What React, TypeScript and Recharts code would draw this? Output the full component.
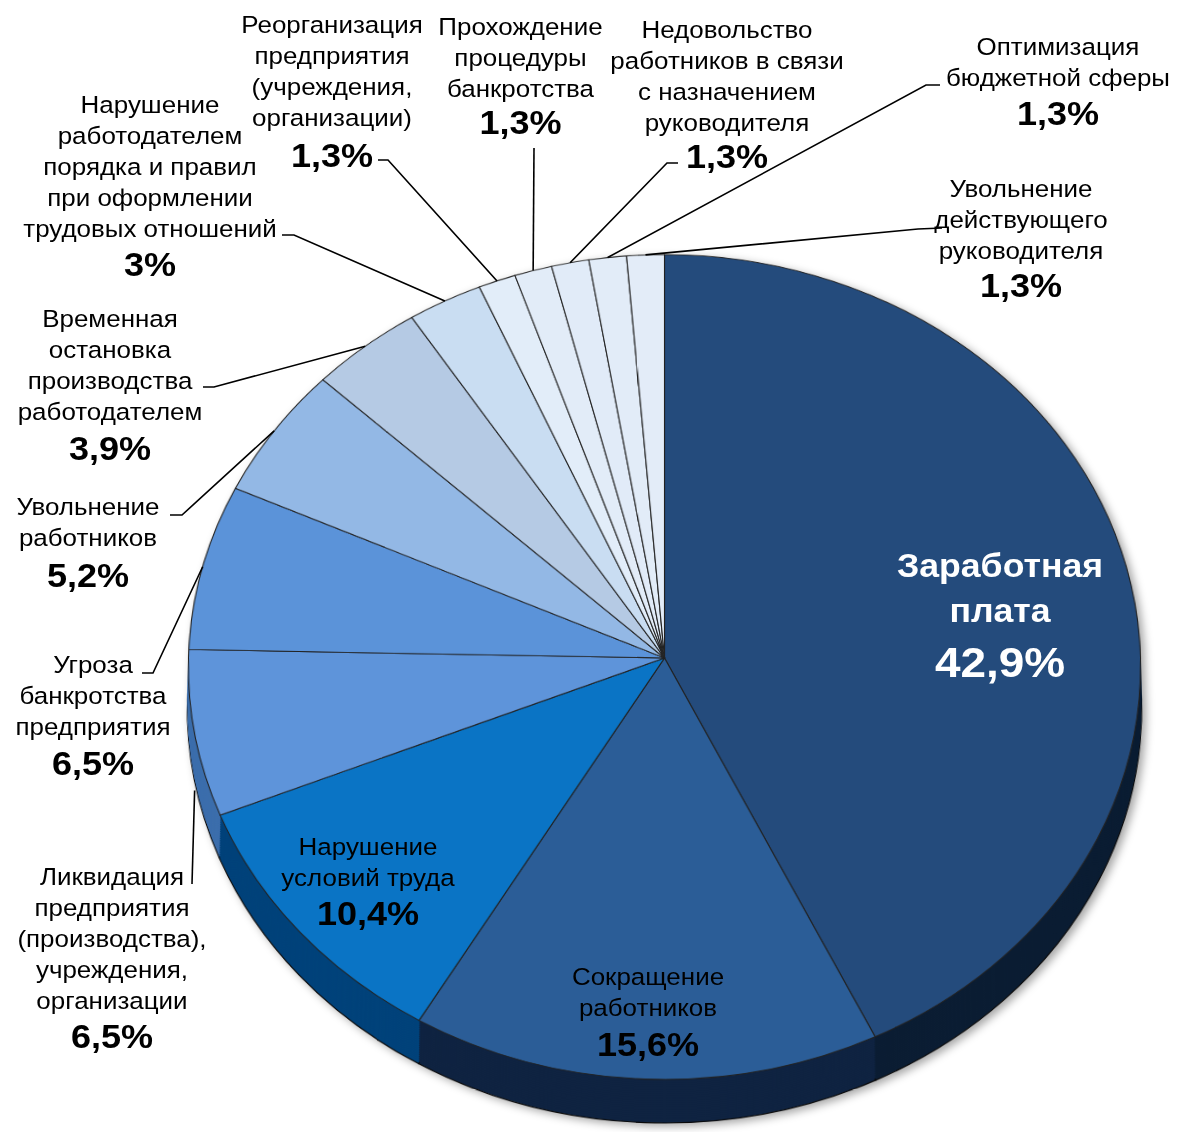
import React from 'react';
import { PieChart, Pie, Cell } from 'recharts';

// ---------- data ----------
const categories: string[] = [
  'Заработная\nплата',
  'Сокращение\nработников',
  'Нарушение\nусловий труда',
  'Ликвидация\nпредприятия\n(производства),\nучреждения,\nорганизации',
  'Угроза\nбанкротства\nпредприятия',
  'Увольнение\nработников',
  'Временная\nостановка\nпроизводства\nработодателем',
  'Нарушение\nработодателем\nпорядка и правил\nпри оформлении\nтрудовых отношений',
  'Реорганизация\nпредприятия\n(учреждения,\nорганизации)',
  'Прохождение\nпроцедуры\nбанкротства',
  'Недовольство\nработников в связи\nс назначением\nруководителя',
  'Оптимизация\nбюджетной сферы',
  'Увольнение\nдействующего\nруководителя',
];
const values: number[] = [42.9, 15.6, 10.4, 6.5, 6.5, 5.2, 3.9, 2.6, 1.3, 1.3, 1.3, 1.3, 1.3];
const percentLabels: string[] = ['42,9%', '15,6%', '10,4%', '6,5%', '6,5%', '5,2%', '3,9%', '3%', '1,3%', '1,3%', '1,3%', '1,3%', '1,3%'];

const data = categories.map((name, i) => ({ name, value: values[i] }));

// ---------- styles ----------
const topColors = ['#244B7C', '#2B5D97', '#0A74C5', '#5E94DA', '#5B93D9', '#93B8E5', '#B5CAE4', '#C9DDF2', '#E2EDF9', '#E2ECF8', '#E1EBF8', '#E2ECF8', '#E3ECF8'];
const sideColors = ['#0B1D33', '#0F2341', '#01427A', '#3C6EAC', '#3C6EAC', '#5E82AE', '#7F93AE', '#8FA0B5', '#9AA8BA', '#9AA8BA', '#9AA8BA', '#9AA8BA', '#9AA8BA'];

const FONT = '"Liberation Sans", Arial, sans-serif';
const CX = 664.5;
const CY = 658;
const R = 476;
const TILT = 30;
const PERSP = 10900;
const DEPTH = 48;
const sideLayers: number[] = [];
for (let d = DEPTH; d > 0; d -= 2) sideLayers.push(d);

type Layout = { x: number; y: number; lh: number; gap: number; big?: boolean; white?: boolean; lead?: number[][]; drop?: number };
const labelLayout: Layout[] = [
  { x: 1000, y: 577, lh: 45, gap: 55, big: true, white: true },
  { x: 648, y: 985, lh: 31, gap: 40 },
  { x: 368, y: 855, lh: 31, gap: 39 },
  { x: 112, y: 885, lh: 31, gap: 39, lead: [[192, 884]], drop: 57 },
  { x: 93, y: 673, lh: 31, gap: 40, lead: [[142, 673], [153, 673]] },
  { x: 88, y: 515, lh: 31, gap: 41, lead: [[170, 515], [182, 515]] },
  { x: 110, y: 327, lh: 31, gap: 40, lead: [[203, 387], [214, 387]] },
  { x: 150, y: 113, lh: 31, gap: 39, lead: [[282, 235], [294, 235]] },
  { x: 332, y: 33, lh: 31, gap: 41, lead: [[378, 160], [388, 160]] },
  { x: 520.5, y: 35, lh: 31, gap: 37, lead: [[534, 148]] },
  { x: 727, y: 38, lh: 31, gap: 37, lead: [[678, 163], [667, 163]] },
  { x: 1058, y: 55, lh: 31, gap: 39, lead: [[940, 85], [926, 85]] },
  { x: 1021, y: 197, lh: 31, gap: 38, lead: [[942, 228], [918, 229]] },
];

// project a point of the tilted disc onto the screen
const project = (cx: number, cy: number, angleDeg: number, r: number) => {
  const a = (angleDeg * Math.PI) / 180;
  const x = r * Math.cos(a);
  const y = -r * Math.sin(a);
  const t = (TILT * Math.PI) / 180;
  const f = PERSP / (PERSP - y * Math.sin(t));
  return [cx + x * f, cy + y * Math.cos(t) * f];
};

const renderLabel = (props: any) => {
  const { cx, cy, midAngle, outerRadius, index } = props;
  const L = labelLayout[index];
  if (!L) return null;
  const lines = categories[index].split('\n');
  const nameSize = L.big ? 33 : 24.5;
  const pctSize = L.big ? 42.5 : 34;
  const color = L.white ? '#FFFFFF' : '#000000';
  const pctY = L.y + (lines.length - 1) * L.lh + L.gap;
  let leader: React.ReactNode = null;
  if (L.lead) {
    const [rx, ry] = project(cx, cy, midAngle, outerRadius);
    const pts = [...L.lead, [rx, ry + (L.drop || 0)]];
    const d = pts.map((p, k) => `${k === 0 ? 'M' : 'L'}${p[0]},${p[1]}`).join(' ');
    leader = <path d={d} stroke="#000" strokeWidth={1.6} fill="none" />;
  }
  const sx = L.big ? 1.08 : 1.06;
  const stretch = `translate(${L.x},0) scale(${sx},1) translate(${-L.x},0)`;
  return (
    <g key={`lbl-${index}`}>
      {leader}
      <g transform={stretch}>
        <text x={L.x} y={L.y} textAnchor="middle" fontFamily={FONT} fontSize={nameSize} fontWeight={L.big ? 700 : 400} fill={color}>
          {lines.map((ln, k) => (
            <tspan key={k} x={L.x} y={L.y + k * L.lh}>{ln}</tspan>
          ))}
        </text>
        <text x={L.x} y={pctY} textAnchor="middle" fontFamily={FONT} fontSize={pctSize} fontWeight={700} fill={color}>
          {percentLabels[index]}
        </text>
      </g>
    </g>
  );
};

export default function App() {
  return (
    <div style={{ position: 'absolute', left: 0, top: 0, width: 1177, height: 1132, overflow: 'hidden', background: '#fff', fontFamily: FONT }}>
      <div style={{ position: 'absolute', left: 0, top: 0, width: 1177, height: 1250, filter: 'drop-shadow(4px 3px 4px rgba(0,0,0,0.35))' }}>
        <div style={{ position: 'absolute', left: 0, top: 0, width: 1177, height: 1250, transform: `perspective(${PERSP}px) rotateX(${TILT}deg)`, transformOrigin: `${CX}px ${CY}px` }}>
          <PieChart width={1177} height={1250} margin={{ top: 0, right: 0, bottom: 0, left: 0 }}>
            {sideLayers.map((d, li) => (
              <Pie
                key={`side-${d}`}
                data={data}
                dataKey="value"
                cx={CX}
                cy={CY + d}
                outerRadius={R}
                startAngle={90}
                endAngle={-270}
                stroke={li === 0 ? '#0a0a0a' : 'none'}
                strokeWidth={li === 0 ? 1.2 : 0}
                isAnimationActive={false}
              >
                {data.map((_, i) => (
                  <Cell key={i} fill={sideColors[i]} />
                ))}
              </Pie>
            ))}
            <Pie
              data={data}
              dataKey="value"
              cx={CX}
              cy={CY}
              outerRadius={R}
              startAngle={90}
              endAngle={-270}
              stroke="#222222"
              strokeWidth={1.1}
              isAnimationActive={false}
            >
              {data.map((_, i) => (
                <Cell key={i} fill={topColors[i]} />
              ))}
            </Pie>
          </PieChart>
        </div>
      </div>
      <div style={{ position: 'absolute', left: 0, top: 0 }}>
        <PieChart width={1177} height={1132} margin={{ top: 0, right: 0, bottom: 0, left: 0 }}>
          <Pie
            data={data}
            dataKey="value"
            cx={CX}
            cy={CY}
            outerRadius={R}
            startAngle={90}
            endAngle={-270}
            fill="transparent"
            stroke="none"
            isAnimationActive={false}
            label={renderLabel}
            labelLine={false}
          />
        </PieChart>
      </div>
    </div>
  );
}
